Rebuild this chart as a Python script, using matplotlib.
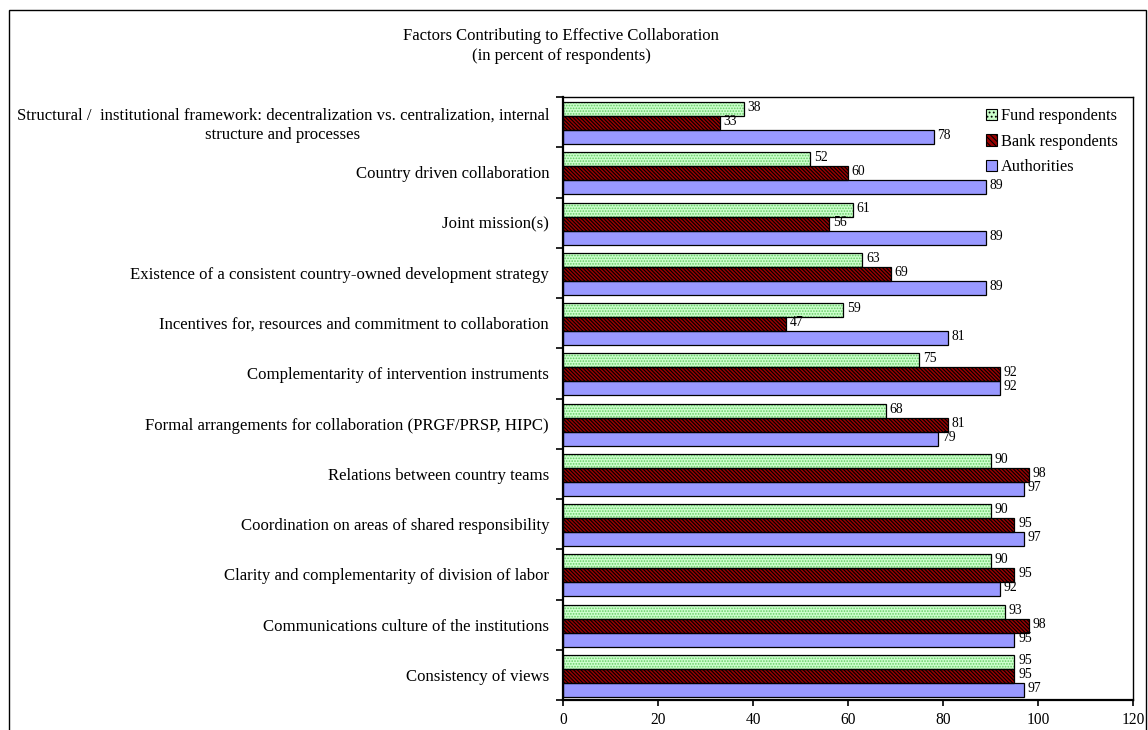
import numpy as np
import matplotlib
matplotlib.use("Agg")
import matplotlib.pyplot as plt
from matplotlib.patches import Rectangle, Patch

# ---------------------------------------------------------
# data (top to bottom)
# ---------------------------------------------------------
categories = [
    "Structural /  institutional framework: decentralization vs. centralization, internal\nstructure and processes",
    "Country driven collaboration",
    "Joint mission(s)",
    "Existence of a consistent country-owned development strategy",
    "Incentives for, resources and commitment to collaboration",
    "Complementarity of intervention instruments",
    "Formal arrangements for collaboration (PRGF/PRSP, HIPC)",
    "Relations between country teams",
    "Coordination on areas of shared responsibility",
    "Clarity and complementarity of division of labor",
    "Communications culture of the institutions",
    "Consistency of views",
]

fund = [38, 52, 61, 63, 59, 75, 68, 90, 90, 90, 93, 95]
bank = [33, 60, 56, 69, 47, 92, 81, 98, 95, 95, 98, 95]
authorities = [78, 89, 89, 89, 81, 92, 79, 97, 97, 92, 95, 97]

series_names = ["Fund respondents", "Bank respondents", "Authorities"]
x_ticks = [0, 20, 40, 60, 80, 100, 120]

plt.rcParams["font.family"] = ["Liberation Serif", "DejaVu Serif"]
plt.rcParams["hatch.linewidth"] = 0.8

W, H = 1148, 730
fig = plt.figure(figsize=(W / 100, H / 100), dpi=100)
ax = fig.add_axes([563 / W, 1 - 700 / H, (1133 - 563) / W, (700 - 97) / H])

y = np.arange(len(categories))
h = 0.28

styles = [
    # (values, face, hatch colour, hatch)
    (fund, "#ccffcc", "#66cc66", "......"),
    (bank, "#990000", "#000000", "\\" * 9),
    (authorities, "#9999ff", "#9999ff", None),
]

for k, (vals, face, hcol, hatch) in enumerate(styles):
    pos = y + (k - 1) * h + 0.02
    # fill + pattern
    ax.barh(pos, vals, height=h, color=face, edgecolor=hcol,
            hatch=hatch, linewidth=0, zorder=2)
    # black outline
    ax.barh(pos, vals, height=h, fill=False, edgecolor="black",
            linewidth=0.9, zorder=3)
    for p, v in zip(pos, vals):
        ax.text(v + 0.8, p - 0.03, str(v), va="center", ha="left",
                fontsize=9.8, zorder=4)

ax.set_xlim(0, 120)
ax.set_ylim(len(categories) - 0.5, -0.5)
ax.set_xticks(x_ticks)
ax.tick_params(axis="x", direction="out", length=4, width=1.2,
               labelsize=11.2, pad=5)

ax.set_yticks(y)
ax.set_yticklabels(categories, fontsize=12.1)
ax.set_yticks(np.arange(len(categories) + 1) - 0.5, minor=True)
ax.tick_params(axis="y", which="major", length=0, pad=10)
ax.tick_params(axis="y", which="minor", length=5, width=1.2, direction="out")
for lbl in ax.get_yticklabels():
    lbl.set_multialignment("center")

for s in ax.spines.values():
    s.set_linewidth(1.0)
ax.spines["left"].set_linewidth(1.6)
ax.spines["bottom"].set_linewidth(1.6)

handles = [
    Patch(facecolor="#ccffcc", edgecolor="black", hatch="....", linewidth=0.8),
    Patch(facecolor="#990000", edgecolor="black", hatch="\\" * 6, linewidth=0.8),
    Patch(facecolor="#9999ff", edgecolor="black", linewidth=0.8),
]
ax.legend(handles, series_names, loc="upper left", frameon=False,
          fontsize=11.8, handlelength=0.7, handleheight=0.7,
          handletextpad=0.2, labelspacing=0.58, borderpad=0,
          borderaxespad=0,
          bbox_to_anchor=((986 - 563) / 570, 1 - (108 - 97) / 603))

fig.text(561 / W, 1 - 36 / H, "Factors Contributing to Effective Collaboration",
         ha="center", va="center", fontsize=12)
fig.text(561 / W, 1 - 56 / H, "(in percent of respondents)",
         ha="center", va="center", fontsize=12)

# outer frame of the chart area
fig.add_artist(Rectangle((9 / W, -0.02), (1146 - 9) / W, 1 - 10 / H + 0.02,
                         transform=fig.transFigure, fill=False,
                         edgecolor="black", linewidth=1.0))

fig.savefig("out.png", dpi=100)
